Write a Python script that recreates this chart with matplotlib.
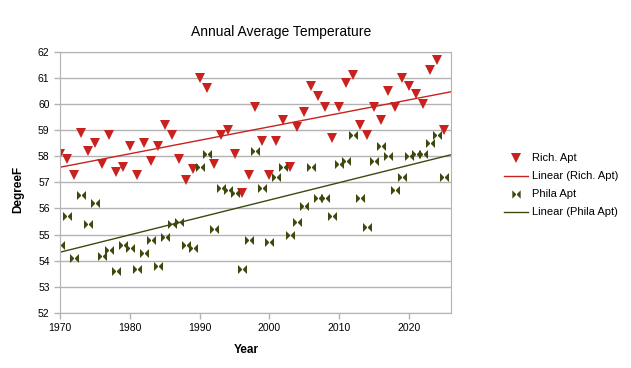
import numpy as np
import matplotlib
matplotlib.use("Agg")
import matplotlib.pyplot as plt
from matplotlib.path import Path
from matplotlib.lines import Line2D

plt.rcParams['font.family'] = ['Liberation Sans', 'DejaVu Sans']

years = list(range(1970, 2026))

rich_apt = [
    58.1, 57.9, 57.3, 58.9, 58.2, 58.5, 57.7, 58.8, 57.4, 57.6,
    58.4, 57.3, 58.5, 57.8, 58.4, 59.2, 58.8, 57.9, 57.1, 57.5,
    61.0, 60.6, 57.7, 58.8, 59.0, 58.1, 56.6, 57.3, 59.9, 58.6,
    57.3, 58.6, 59.4, 57.6, 59.1, 59.7, 60.7, 60.3, 59.9, 58.7,
    59.9, 60.8, 61.1, 59.2, 58.8, 59.9, 59.4, 60.5, 59.9, 61.0,
    60.7, 60.4, 60.0, 61.3, 61.7, 59.0,
]

phila_apt = [
    54.6, 55.7, 54.1, 56.5, 55.4, 56.2, 54.2, 54.4, 53.6, 54.6,
    54.5, 53.7, 54.3, 54.8, 53.8, 54.9, 55.4, 55.5, 54.6, 54.5,
    57.6, 58.1, 55.2, 56.8, 56.7, 56.6, 53.7, 54.8, 58.2, 56.8,
    54.7, 57.2, 57.6, 55.0, 55.5, 56.1, 57.6, 56.4, 56.4, 55.7,
    57.7, 57.8, 58.8, 56.4, 55.3, 57.8, 58.4, 58.0, 56.7, 57.2,
    58.0, 58.1, 58.1, 58.5, 58.8, 57.2,
]

RED = '#c9211e'
OLIVE = '#3c4a0e'

# bow tie marker (two triangles meeting in the middle)
bowtie = Path([(-1, -1), (1, 1), (1, -1), (-1, 1), (-1, -1)],
              [Path.MOVETO, Path.LINETO, Path.LINETO, Path.LINETO, Path.CLOSEPOLY])

fig = plt.figure(figsize=(6.31, 3.68), dpi=100)
ax = fig.add_axes([0.0951, 0.1495, 0.6196, 0.71])

x = np.array(years)
ax.plot(x, rich_apt, linestyle='none', marker='v', markersize=7,
        color=RED, markeredgewidth=0)
ax.plot(x, phila_apt, linestyle='none', marker=bowtie, markersize=6.5,
        color=OLIVE, markeredgewidth=0)

# linear trend lines
xl = np.array([1970, 2026])
for vals, col in [(rich_apt, RED), (phila_apt, OLIVE)]:
    k, b = np.polyfit(x, vals, 1)
    ax.plot(xl, k * xl + b, color=col, linewidth=1)

ax.set_xlim(1970, 2026)
ax.set_ylim(52, 62)
ax.set_xticks(range(1970, 2030, 10))
ax.set_yticks(range(52, 63))
ax.yaxis.grid(True, color='#b3b3b3', linewidth=1)
ax.set_axisbelow(True)
for s in ax.spines.values():
    s.set_color('#b3b3b3')
ax.tick_params(axis='both', colors='#b3b3b3', labelcolor='black',
               labelsize=7.5, length=4, width=1)

fig.text(0.446, 0.913, 'Annual Average Temperature', ha='center', va='center',
         fontsize=10)
fig.text(0.391, 0.049, 'Year', ha='center', va='center', fontsize=8.5,
         fontweight='bold')
fig.text(0.0285, 0.484, 'DegreeF', ha='center', va='center', fontsize=8.5,
         fontweight='bold', rotation=90)

handles = [
    Line2D([], [], linestyle='none', marker='v', markersize=7, color=RED,
           markeredgewidth=0),
    Line2D([], [], color=RED, linewidth=1),
    Line2D([], [], linestyle='none', marker=bowtie, markersize=6, color=OLIVE,
           markeredgewidth=0),
    Line2D([], [], color=OLIVE, linewidth=1),
]
labels = ['Rich. Apt', 'Linear (Rich. Apt)', 'Phila Apt', 'Linear (Phila Apt)']
fig.legend(handles, labels, loc='center left', bbox_to_anchor=(0.79, 0.496),
           frameon=False, fontsize=8, handlelength=2.2, handletextpad=0.3,
           labelspacing=0.72, borderpad=0)

fig.savefig('out.png', dpi=100)
